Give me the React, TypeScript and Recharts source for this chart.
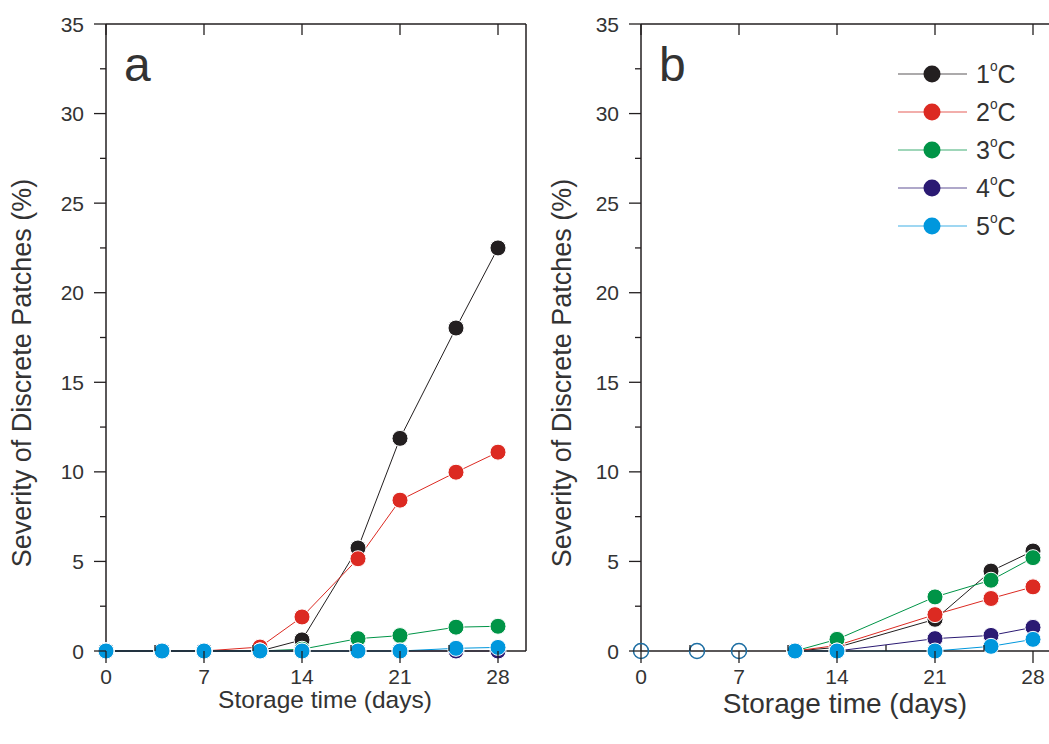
import { Legend, Line, LineChart, XAxis, YAxis } from 'recharts';

// storage days and severity (%)
const daysA = [0, 4, 7, 11, 14, 18, 21, 25, 28];
const a1C = [0, 0, 0, 0, 0.62, 5.75, 11.87, 18.03, 22.5];
const a2C = [0, 0, 0, 0.22, 1.9, 5.15, 8.42, 9.98, 11.1];
const a3C = [0, 0, 0, 0, 0.1, 0.69, 0.86, 1.33, 1.38];
const a4C = [0, 0, 0, 0, 0, 0, 0, 0, 0];
const a5C = [0, 0, 0, 0, 0, 0, 0, 0.15, 0.2];

const daysB = [11, 14, 21, 25, 28];
const b1C = [0, 0.2, 1.77, 4.46, 5.58];
const b2C = [0, 0.31, 2.03, 2.93, 3.58];
const b3C = [0, 0.65, 3.02, 3.95, 5.21];
const b4C = [0, 0, 0.69, 0.87, 1.32];
const b5C = [0, 0, 0, 0.26, 0.65];

const openDaysB = [0, 4, 7];
const openValuesB = [0, 0, 0];

const seriesNames = ['1°C', '2°C', '3°C', '4°C', '5°C'];
const seriesColors = ['#231f20', '#dc2a22', '#009447', '#2b1a73', '#0097dd'];

const xTicks = [0, 3.5, 7, 10.5, 14, 17.5, 21, 24.5, 28];
const xTopTicks = [0, 7, 14, 21, 28];
const yTicks = [0, 2.5, 5, 7.5, 10, 12.5, 15, 17.5, 20, 22.5, 25, 27.5, 30, 32.5, 35];

const AXIS = '#231f20';
const TEXT = '#333333';
const OPEN = '#1d6ea3';

const toRows = (days: number[], cols: number[][]) =>
  days.map((day, i) => {
    const row: Record<string, number> = { day };
    cols.forEach((c, k) => {
      row[`s${k}`] = c[i];
    });
    return row;
  });

const rowsA = toRows(daysA, [a1C, a2C, a3C, a4C, a5C]);
const rowsB = toRows(daysB, [b1C, b2C, b3C, b4C, b5C]);
const openRows = openDaysB.map((day, i) => ({ day, v: openValuesB[i] }));

const isMajorY = (v: number) => v % 5 === 0;
const isMajorX = (v: number) => v % 7 === 0;

function LeftTick(props: any) {
  const { x, y, payload } = props;
  const major = isMajorY(payload.value);
  return (
    <g>
      <line x1={x} x2={x - (major ? 12 : 6)} y1={y} y2={y} stroke={AXIS} strokeWidth={1.3} />
      {major && (
        <text x={x - 22} y={y + 7.5} textAnchor="end" fontSize={21} fill={TEXT}>
          {payload.value}
        </text>
      )}
    </g>
  );
}

function RightTick(props: any) {
  const { x, y, payload } = props;
  const major = isMajorY(payload.value);
  return <line x1={x} x2={x - (major ? 13 : 7)} y1={y} y2={y} stroke={AXIS} strokeWidth={1.3} />;
}

function BottomTick(props: any) {
  const { x, y, payload } = props;
  const major = isMajorX(payload.value);
  return (
    <g>
      <line x1={x} x2={x} y1={y} y2={major ? y + 12 : y - 6} stroke={AXIS} strokeWidth={1.3} />
      {major && (
        <text x={x} y={y + 33} textAnchor="middle" fontSize={21} fill={TEXT}>
          {payload.value}
        </text>
      )}
    </g>
  );
}

function TopTick(props: any) {
  const { x, y } = props;
  return <line x1={x} x2={x} y1={y} y2={y + 11} stroke={AXIS} strokeWidth={1.3} />;
}

interface TitleProps {
  titleX: number;
  titleY: number;
  titleSize: number;
  titleRotate?: number;
  titleAnchor?: 'start' | 'middle' | 'end';
  titleText: string;
}

// recharts hands its own x / y / viewBox to a label; only the title* props are used
function Title({ titleX, titleY, titleSize, titleRotate = 0, titleAnchor = 'middle', titleText }: TitleProps) {
  return (
    <text
      transform={`translate(${titleX}, ${titleY}) rotate(${titleRotate})`}
      textAnchor={titleAnchor}
      fontSize={titleSize}
      fill={TEXT}
    >
      {titleText}
    </text>
  );
}

function DegreeText({ x, y, value, size }: { x: number; y: number; value: string; size: number }) {
  const [num, unit] = value.split('°');
  return (
    <text x={x} y={y} fontSize={size} fill={TEXT}>
      {num}
      <tspan dy={-12} fontSize={size * 0.55}>
        o
      </tspan>
      <tspan dy={12} fontSize={size}>
        {unit}
      </tspan>
    </text>
  );
}

function LegendBox(props: any) {
  const items = (props.payload || []).filter((p: any) => p.type !== 'none');
  return (
    <svg width={170} height={190}>
      {items.map((item: any, i: number) => {
        const cy = 19 + i * 38;
        return (
          <g key={item.value}>
            <line x1={8} x2={77} y1={cy} y2={cy} stroke={item.color} strokeWidth={1.2} strokeOpacity={0.75} />
            <circle cx={42} cy={cy} r={8.5} fill={item.color} />
            <DegreeText x={86} y={cy + 9} value={item.value} size={25} />
          </g>
        );
      })}
    </svg>
  );
}

interface PanelProps {
  rows: Record<string, number>[];
  letter: string;
  yTitleX: number;
  xTitleX: number;
  xTitleY: number;
  xTitleSize: number;
  withOpen?: boolean;
  withLegend?: boolean;
}

function Panel({ rows, letter, yTitleX, xTitleX, xTitleY, xTitleSize, withOpen, withLegend }: PanelProps) {
  return (
    <LineChart width={540} height={744} data={rows} margin={{ top: 24, right: 14, bottom: 0, left: 0 }}>
      <XAxis
        dataKey="day"
        type="number"
        domain={[0, 30]}
        ticks={xTicks}
        interval={0}
        height={93}
        tickSize={0}
        tickMargin={0}
        tickLine={false}
        tick={<BottomTick />}
        axisLine={{ stroke: AXIS, strokeWidth: 1.5 }}
        label={<Title titleX={xTitleX} titleY={xTitleY} titleSize={xTitleSize} titleText="Storage time (days)" />}
      />
      <XAxis
        xAxisId="top"
        orientation="top"
        mirror
        dataKey="day"
        type="number"
        domain={[0, 30]}
        ticks={xTopTicks}
        interval={0}
        tickSize={0}
        tickMargin={0}
        tickLine={false}
        tick={<TopTick />}
        axisLine={{ stroke: AXIS, strokeWidth: 1.5 }}
        label={<Title titleX={124} titleY={81} titleSize={48} titleAnchor="start" titleText={letter} />}
      />
      <YAxis
        type="number"
        domain={[0, 35]}
        ticks={yTicks}
        interval={0}
        width={106}
        tickSize={0}
        tickMargin={0}
        tickLine={false}
        tick={<LeftTick />}
        axisLine={{ stroke: AXIS, strokeWidth: 1.5 }}
        label={
          <Title
            titleX={yTitleX}
            titleY={373}
            titleSize={27}
            titleRotate={-90}
            titleText="Severity of Discrete Patches (%)"
          />
        }
      />
      <YAxis
        yAxisId="right"
        orientation="right"
        mirror
        type="number"
        domain={[0, 35]}
        ticks={yTicks}
        interval={0}
        tickSize={0}
        tickMargin={0}
        tickLine={false}
        tick={<RightTick />}
        axisLine={{ stroke: AXIS, strokeWidth: 1.5 }}
      />
      {withOpen && (
        <Line
          data={openRows}
          dataKey="v"
          stroke="none"
          legendType="none"
          dot={{ r: 7.5, fill: 'none', stroke: OPEN, strokeWidth: 1.5 }}
          activeDot={false}
          isAnimationActive={false}
        />
      )}
      {seriesNames.map((name, k) => (
        <Line
          key={name}
          type="linear"
          dataKey={`s${k}`}
          name={name}
          stroke={seriesColors[k]}
          strokeWidth={1}
          dot={{ r: 8, fill: seriesColors[k], stroke: '#ffffff', strokeWidth: 1 }}
          activeDot={false}
          isAnimationActive={false}
        />
      ))}
      {withLegend && (
        <Legend
          layout="vertical"
          align="center"
          verticalAlign="middle"
          content={<LegendBox />}
          wrapperStyle={{ position: 'absolute', left: 355, top: 55, width: 170, height: 190 }}
        />
      )}
    </LineChart>
  );
}

export default function App() {
  return (
    <div
      style={{
        position: 'fixed',
        left: 0,
        top: 0,
        width: 1049,
        height: 744,
        overflow: 'hidden',
        background: '#ffffff',
        fontFamily: '"Liberation Sans", Arial, sans-serif',
      }}
    >
      <div style={{ position: 'absolute', left: 0, top: 0 }}>
        <Panel rows={rowsA} letter="a" yTitleX={31} xTitleX={325} xTitleY={708} xTitleSize={24.5} />
      </div>
      <div style={{ position: 'absolute', left: 535, top: 0 }}>
        <Panel
          rows={rowsB}
          letter="b"
          yTitleX={36}
          xTitleX={310}
          xTitleY={713}
          xTitleSize={28}
          withOpen
          withLegend
        />
      </div>
    </div>
  );
}
